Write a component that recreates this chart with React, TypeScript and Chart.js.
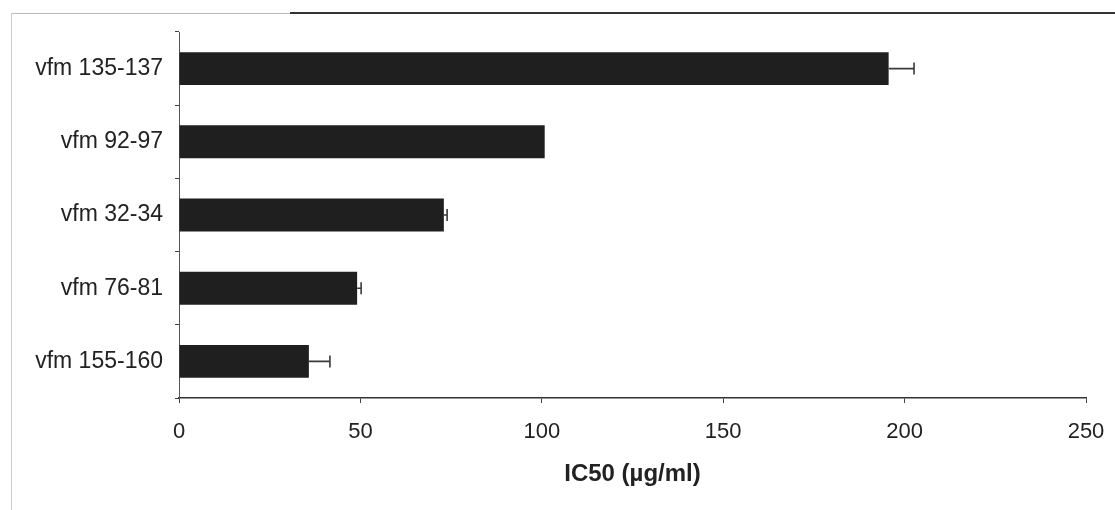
import React, { useEffect, useRef } from "react";
import { Chart, registerables } from "chart.js";

Chart.register(...registerables);

const categories = ["vfm 135-137", "vfm 92-97", "vfm 32-34", "vfm 76-81", "vfm 155-160"];
const ic50Values = [195.6, 100.8, 73.0, 49.1, 35.8];
const ic50Errors = [7.0, 0, 0.9, 1.1, 5.8];
const xTickValues = [0, 50, 100, 150, 200, 250];
const xTitle = "IC50 (µg/ml)";

const FONT = "'Liberation Sans', Arial, sans-serif";

const errorBarPlugin = {
  id: "errorBars",
  afterDatasetsDraw(chart: any) {
    const meta = chart.getDatasetMeta(0);
    const xScale = chart.scales.x;
    const ctx = chart.ctx;
    ctx.save();
    ctx.strokeStyle = "#3a3a3a";
    ctx.lineWidth = 1.6;
    meta.data.forEach((bar: any, i: number) => {
      const err = ic50Errors[i];
      if (!err) return;
      const x0 = xScale.getPixelForValue(ic50Values[i]);
      const x1 = xScale.getPixelForValue(ic50Values[i] + err);
      const y = bar.y;
      ctx.beginPath();
      ctx.moveTo(x0, y);
      ctx.lineTo(x1, y);
      ctx.moveTo(x1, y - 6);
      ctx.lineTo(x1, y + 6);
      ctx.stroke();
    });
    ctx.restore();
  },
};

export default function App() {
  const ref = useRef<HTMLCanvasElement | null>(null);

  useEffect(() => {
    if (!ref.current) return;
    const chart = new Chart(ref.current, {
      type: "bar",
      data: {
        labels: categories,
        datasets: [
          {
            data: ic50Values,
            backgroundColor: "#1f1f1f",
            borderWidth: 0,
            barPercentage: 0.45,
            categoryPercentage: 1,
          },
        ],
      },
      options: {
        indexAxis: "y",
        animation: false,
        responsive: false,
        maintainAspectRatio: false,
        layout: { padding: { top: 32, right: 29, left: 0, bottom: 0 } },
        plugins: {
          legend: { display: false },
          tooltip: { enabled: false },
        },
        scales: {
          x: {
            type: "linear",
            min: 0,
            max: 250,
            afterBuildTicks: (s: any) => {
              s.ticks = xTickValues.map((v) => ({ value: v }));
            },
            afterFit: (s: any) => {
              s.height = 112;
              s.paddingRight = 0;
              s.paddingLeft = 0;
            },
            ticks: {
              font: { family: FONT, size: 22 },
              color: "#222",
              padding: 16,
              maxRotation: 0,
            },
            grid: {
              drawOnChartArea: false,
              drawTicks: true,
              tickLength: 5,
              color: "#444",
            },
            border: { display: true, color: "#333", width: 1.5 },
            title: {
              display: true,
              text: xTitle,
              color: "#222",
              font: { family: FONT, size: 24, weight: "bold" },
              padding: { top: 0, bottom: 21 },
            },
          },
          y: {
            type: "category",
            afterFit: (s: any) => {
              s.width = 179;
            },
            ticks: {
              font: { family: FONT, size: 23 },
              color: "#222",
              padding: 12,
            },
            grid: {
              offset: true,
              drawOnChartArea: false,
              drawTicks: true,
              tickLength: 4,
              color: "#444",
            },
            border: { display: true, color: "#555", width: 1 },
          },
        },
      },
      plugins: [errorBarPlugin],
    } as any);
    return () => chart.destroy();
  }, []);

  return (
    <div style={{ position: "fixed", left: 0, top: 0, width: 1115, height: 510, background: "#fff" }}>
      <div style={{ position: "absolute", left: 12, top: 13, width: 278, height: 0, borderTop: "1px solid #bbb" }} />
      <div style={{ position: "absolute", left: 290, top: 12, width: 825, height: 0, borderTop: "2px solid #333" }} />
      <div style={{ position: "absolute", left: 11, top: 13, width: 0, height: 497, borderLeft: "1px solid #ccc" }} />
      <canvas ref={ref} width={1115} height={510} style={{ position: "absolute", left: 0, top: 0, display: "block" }} />
    </div>
  );
}
